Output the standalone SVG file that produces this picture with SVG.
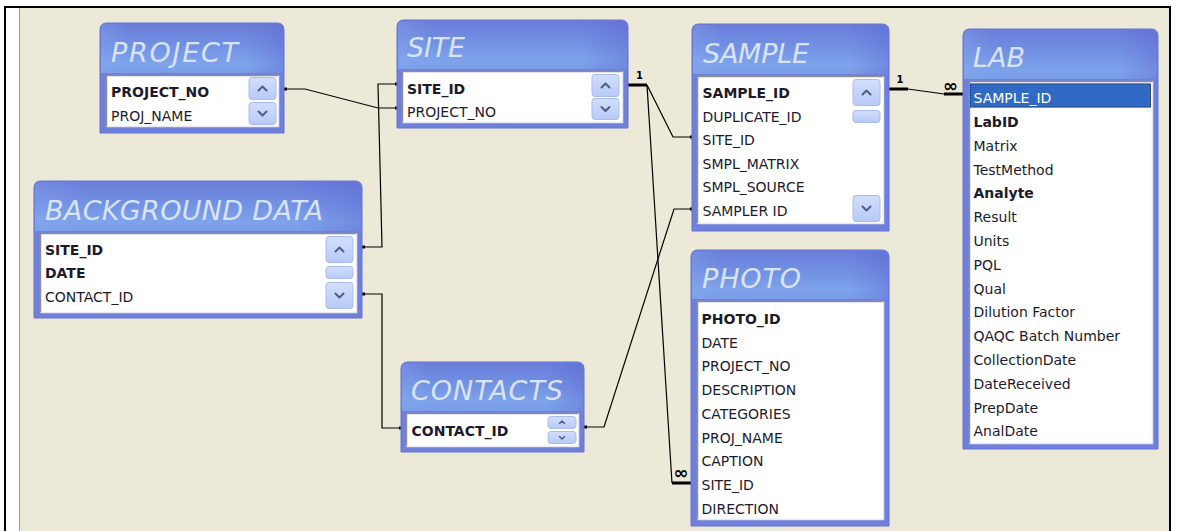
<svg xmlns="http://www.w3.org/2000/svg" width="1179" height="531" viewBox="0 0 1179 531">
<defs>
<linearGradient id="hg" x1="0" y1="0" x2="0" y2="1">
<stop offset="0" stop-color="#6A7DDA"/>
<stop offset="0.45" stop-color="#7291E3"/>
<stop offset="0.8" stop-color="#7DA3EB"/>
<stop offset="1" stop-color="#7A9DE8"/>
</linearGradient>
<linearGradient id="hs" x1="0" y1="0" x2="1" y2="0">
<stop offset="0" stop-color="#8AA8EE" stop-opacity="0.35"/>
<stop offset="0.15" stop-color="#8AA8EE" stop-opacity="0"/>
<stop offset="0.8" stop-color="#5A5ECC" stop-opacity="0"/>
<stop offset="1" stop-color="#5A5ECC" stop-opacity="0.35"/>
</linearGradient>
<linearGradient id="bg" x1="0" y1="0" x2="0" y2="1">
<stop offset="0" stop-color="#D3DEFC"/>
<stop offset="1" stop-color="#B7CAF6"/>
</linearGradient>
<style>
.frame{fill:#6F80DB;stroke:#6272D2;stroke-width:1}
.hdr{fill:url(#hg)}
.hsh{fill:url(#hs)}
.title{font-family:"DejaVu Sans",sans-serif;font-style:italic;font-size:27px;fill:#D8E3F8}
.box{fill:#FFFFFF}
.bev1{fill:none;stroke:#8E8E8E;stroke-width:1.5}
.bev2{fill:none;stroke:#E6E8F4;stroke-width:1.5}
.f{font-family:"DejaVu Sans",sans-serif;font-size:14px;fill:#1C1A2C}
.b{font-weight:bold}
.btn{fill:url(#bg);stroke:#A8BCEE;stroke-width:1}
.chev{fill:none;stroke:#4D5F88;stroke-width:2;stroke-linecap:round;stroke-linejoin:round}
.conn{fill:none;stroke:#000;stroke-width:1.2}
.thick{fill:none;stroke:#000;stroke-width:3}
.dot{fill:#000}
.lbl{font-family:"DejaVu Sans",sans-serif;font-weight:bold;fill:#000}
</style>
</defs>

<rect x="0" y="0" width="1179" height="531" fill="#FFFFFF"/>
<rect x="20" y="8" width="1149" height="523" fill="#ECE9D8"/>
<rect x="19" y="8" width="1" height="523" fill="#9C9A90"/>
<rect x="4" y="6" width="1167" height="2" fill="#000"/>
<rect x="4" y="6" width="2" height="525" fill="#000"/>
<rect x="1169" y="6" width="2" height="525" fill="#000"/>

<g id="connectors">
<path class="conn" d="M285,89 H305 L378,108 H397"/>
<path class="conn" d="M397,84 H378 L382,247 H363"/>
<path class="conn" d="M363,294 H382 V428 H401"/>
<path class="conn" d="M585,427 H604 L674,209 H692"/>
<path class="thick" d="M628,85 H647"/>
<path class="conn" d="M647,85 L673,137 H692"/>
<path class="conn" d="M647,85 L672,483"/>
<path class="thick" d="M672,483 H692"/>
<path class="thick" d="M889,89 H908"/>
<path class="conn" d="M908,89 L944,94"/>
<path class="thick" d="M944,94 H963"/>
<rect class="dot" x="284" y="87.5" width="3" height="3"/>
<rect class="dot" x="395" y="106.5" width="3" height="3"/>
<rect class="dot" x="395" y="82.5" width="3" height="3"/>
<rect class="dot" x="362" y="245.5" width="3" height="3"/>
<rect class="dot" x="362" y="292.5" width="3" height="3"/>
<rect class="dot" x="399" y="426.5" width="3" height="3"/>
<rect class="dot" x="584" y="425.5" width="3" height="3"/>
<rect class="dot" x="690" y="207.5" width="3" height="3"/>
<rect class="dot" x="690" y="135.5" width="3" height="3"/>
<text class="lbl" x="639.5" y="79" font-size="10" text-anchor="middle">1</text>
<text class="lbl" x="900" y="83" font-size="10" text-anchor="middle">1</text>
<text class="lbl" x="950.5" y="92" font-size="18" text-anchor="middle">∞</text>
<text class="lbl" x="681" y="479" font-size="18" text-anchor="middle">∞</text>
</g>

<g id="project">
<path class="frame" d="M100,133 V30 Q100,23 107,23 H277 Q284,23 284,30 V133 Z"/>
<path class="hdr" d="M101,73 V30 Q101,24 107,24 H277 Q283,24 283,30 V73 Z"/>
<path class="hsh" d="M101,73 V30 Q101,24 107,24 H277 Q283,24 283,30 V73 Z"/>
<text class="title" x="111" y="62" textLength="127" lengthAdjust="spacing">PROJECT</text>
<rect class="box" x="106" y="75" width="173" height="52"/>
<path class="bev1" d="M106.5,127 V75.5 H279"/>
<path class="bev2" d="M106.5,126.5 H278.5 V75.5"/>
<text class="f b" x="111" y="96.5">PROJECT_NO</text>
<text class="f" x="111" y="120.5">PROJ_NAME</text>
<rect class="btn" x="249" y="77.5" width="27" height="22" rx="3"/>
<rect class="btn" x="249" y="102.5" width="27" height="22" rx="3"/>
<polyline class="chev" points="258.5,90.5 262.5,86.5 266.5,90.5"/>
<polyline class="chev" points="258.5,111.5 262.5,115.5 266.5,111.5"/>
</g>

<g id="site">
<path class="frame" d="M397,128 V27 Q397,20 404,20 H621 Q628,20 628,27 V128 Z"/>
<path class="hdr" d="M398,69 V27 Q398,21 404,21 H621 Q627,21 627,27 V69 Z"/>
<path class="hsh" d="M398,69 V27 Q398,21 404,21 H621 Q627,21 627,27 V69 Z"/>
<text class="title" x="407" y="57" textLength="58" lengthAdjust="spacing">SITE</text>
<rect class="box" x="402" y="71" width="221" height="52"/>
<path class="bev1" d="M402.5,123 V71.5 H623"/>
<path class="bev2" d="M402.5,122.5 H622.5 V71.5"/>
<text class="f b" x="407" y="93.5">SITE_ID</text>
<text class="f" x="407" y="116.5">PROJECT_NO</text>
<rect class="btn" x="592" y="74.5" width="27" height="22" rx="3"/>
<rect class="btn" x="592" y="98.5" width="27" height="21" rx="3"/>
<polyline class="chev" points="601.5,87.5 605.5,83.5 609.5,87.5"/>
<polyline class="chev" points="601.5,107 605.5,111 609.5,107"/>
</g>

<g id="sample">
<path class="frame" d="M692,231 V31 Q692,24 699,24 H882 Q889,24 889,31 V231 Z"/>
<path class="hdr" d="M693,74 V31 Q693,25 699,25 H882 Q888,25 888,31 V74 Z"/>
<path class="hsh" d="M693,74 V31 Q693,25 699,25 H882 Q888,25 888,31 V74 Z"/>
<text class="title" x="703" y="63" textLength="106" lengthAdjust="spacing">SAMPLE</text>
<rect class="box" x="697" y="76" width="187" height="148"/>
<path class="bev1" d="M697.5,224 V76.5 H884"/>
<path class="bev2" d="M697.5,223.5 H883.5 V76.5"/>
<text class="f b" x="702.5" y="98">SAMPLE_ID</text>
<text class="f" x="702.5" y="121.6">DUPLICATE_ID</text>
<text class="f" x="702.5" y="145.2">SITE_ID</text>
<text class="f" x="702.5" y="168.8">SMPL_MATRIX</text>
<text class="f" x="702.5" y="192.4">SMPL_SOURCE</text>
<text class="f" x="702.5" y="216">SAMPLER ID</text>
<rect class="btn" x="853" y="79.5" width="27" height="26" rx="3"/>
<rect class="btn" x="853" y="110.5" width="27" height="12" rx="3"/>
<rect class="btn" x="853" y="195.5" width="27" height="26" rx="3"/>
<polyline class="chev" points="862.5,94.5 866.5,90.5 870.5,94.5"/>
<polyline class="chev" points="862.5,206.5 866.5,210.5 870.5,206.5"/>
</g>

<g id="lab">
<path class="frame" d="M963,449 V36 Q963,29 970,29 H1151 Q1158,29 1158,36 V449 Z"/>
<path class="hdr" d="M964,79 V36 Q964,30 970,30 H1151 Q1157,30 1157,36 V79 Z"/>
<path class="hsh" d="M964,79 V36 Q964,30 970,30 H1151 Q1157,30 1157,36 V79 Z"/>
<text class="title" x="973" y="67" textLength="52" lengthAdjust="spacing">LAB</text>
<rect class="box" x="969" y="81" width="184" height="363"/>
<path class="bev1" d="M969.5,444 V81.5 H1153"/>
<path class="bev2" d="M969.5,443.5 H1152.5 V81.5"/>
<rect x="970" y="83.5" width="181" height="24" fill="#316AC5"/>
<rect x="970.5" y="84" width="180" height="23" fill="none" stroke="#1A2A50" stroke-width="1" stroke-dasharray="1,1"/>
<text class="f" x="973.5" y="103.2" fill="#FFFFFF" style="fill:#FFFFFF">SAMPLE_ID</text>
<text class="f b" x="973.5" y="127">LabID</text>
<text class="f" x="973.5" y="150.8">Matrix</text>
<text class="f" x="973.5" y="174.6">TestMethod</text>
<text class="f b" x="973.5" y="198.4">Analyte</text>
<text class="f" x="973.5" y="222.2">Result</text>
<text class="f" x="973.5" y="246">Units</text>
<text class="f" x="973.5" y="269.8">PQL</text>
<text class="f" x="973.5" y="293.6">Qual</text>
<text class="f" x="973.5" y="317.4">Dilution Factor</text>
<text class="f" x="973.5" y="341.2">QAQC Batch Number</text>
<text class="f" x="973.5" y="365">CollectionDate</text>
<text class="f" x="973.5" y="388.8">DateReceived</text>
<text class="f" x="973.5" y="412.6">PrepDate</text>
<text class="f" x="973.5" y="436.4">AnalDate</text>
</g>

<g id="background-data">
<path class="frame" d="M34,318 V188 Q34,181 41,181 H355 Q362,181 362,188 V318 Z"/>
<path class="hdr" d="M35,231 V188 Q35,182 41,182 H355 Q361,182 361,188 V231 Z"/>
<path class="hsh" d="M35,231 V188 Q35,182 41,182 H355 Q361,182 361,188 V231 Z"/>
<text class="title" x="45" y="220" textLength="278" lengthAdjust="spacing">BACKGROUND DATA</text>
<rect class="box" x="40" y="233" width="317" height="80"/>
<path class="bev1" d="M40.5,313 V233.5 H357"/>
<path class="bev2" d="M40.5,312.5 H356.5 V233.5"/>
<text class="f b" x="45" y="254.5">SITE_ID</text>
<text class="f b" x="45" y="278.2">DATE</text>
<text class="f" x="45" y="302">CONTACT_ID</text>
<rect class="btn" x="326" y="236.5" width="27" height="26" rx="3"/>
<rect class="btn" x="326" y="266.5" width="27" height="12" rx="3"/>
<rect class="btn" x="326" y="282.5" width="27" height="26" rx="3"/>
<polyline class="chev" points="335.5,251.5 339.5,247.5 343.5,251.5"/>
<polyline class="chev" points="335.5,293.5 339.5,297.5 343.5,293.5"/>
</g>

<g id="contacts">
<path class="frame" d="M401,452 V369 Q401,362 408,362 H577 Q584,362 584,369 V452 Z"/>
<path class="hdr" d="M402,411 V369 Q402,363 408,363 H577 Q583,363 583,369 V411 Z"/>
<path class="hsh" d="M402,411 V369 Q402,363 408,363 H577 Q583,363 583,369 V411 Z"/>
<text class="title" x="411" y="400" textLength="152" lengthAdjust="spacing">CONTACTS</text>
<rect class="box" x="406" y="413" width="173" height="34"/>
<path class="bev1" d="M406.5,447 V413.5 H579"/>
<path class="bev2" d="M406.5,446.5 H578.5 V413.5"/>
<text class="f b" x="411.5" y="435.5">CONTACT_ID</text>
<rect class="btn" x="548" y="416.5" width="28" height="12" rx="3"/>
<rect class="btn" x="548" y="431.5" width="28" height="12" rx="3"/>
<polyline class="chev" points="559.5,423.5 562,421 564.5,423.5" style="stroke-width:1.5"/>
<polyline class="chev" points="559.5,436.5 562,439 564.5,436.5" style="stroke-width:1.5"/>
</g>

<g id="photo">
<path class="frame" d="M691,526 V257 Q691,250 698,250 H882 Q889,250 889,257 V526 Z"/>
<path class="hdr" d="M692,299 V257 Q692,251 698,251 H882 Q888,251 888,257 V299 Z"/>
<path class="hsh" d="M692,299 V257 Q692,251 698,251 H882 Q888,251 888,257 V299 Z"/>
<text class="title" x="702" y="288" textLength="99" lengthAdjust="spacing">PHOTO</text>
<rect class="box" x="697" y="301" width="187" height="219"/>
<path class="bev1" d="M697.5,520 V301.5 H884"/>
<path class="bev2" d="M697.5,519.5 H883.5 V301.5"/>
<text class="f b" x="701.5" y="323.8">PHOTO_ID</text>
<text class="f" x="701.5" y="347.5">DATE</text>
<text class="f" x="701.5" y="371.3">PROJECT_NO</text>
<text class="f" x="701.5" y="395">DESCRIPTION</text>
<text class="f" x="701.5" y="418.8">CATEGORIES</text>
<text class="f" x="701.5" y="442.5">PROJ_NAME</text>
<text class="f" x="701.5" y="466.3">CAPTION</text>
<text class="f" x="701.5" y="490">SITE_ID</text>
<text class="f" x="701.5" y="513.8">DIRECTION</text>
</g>
</svg>
